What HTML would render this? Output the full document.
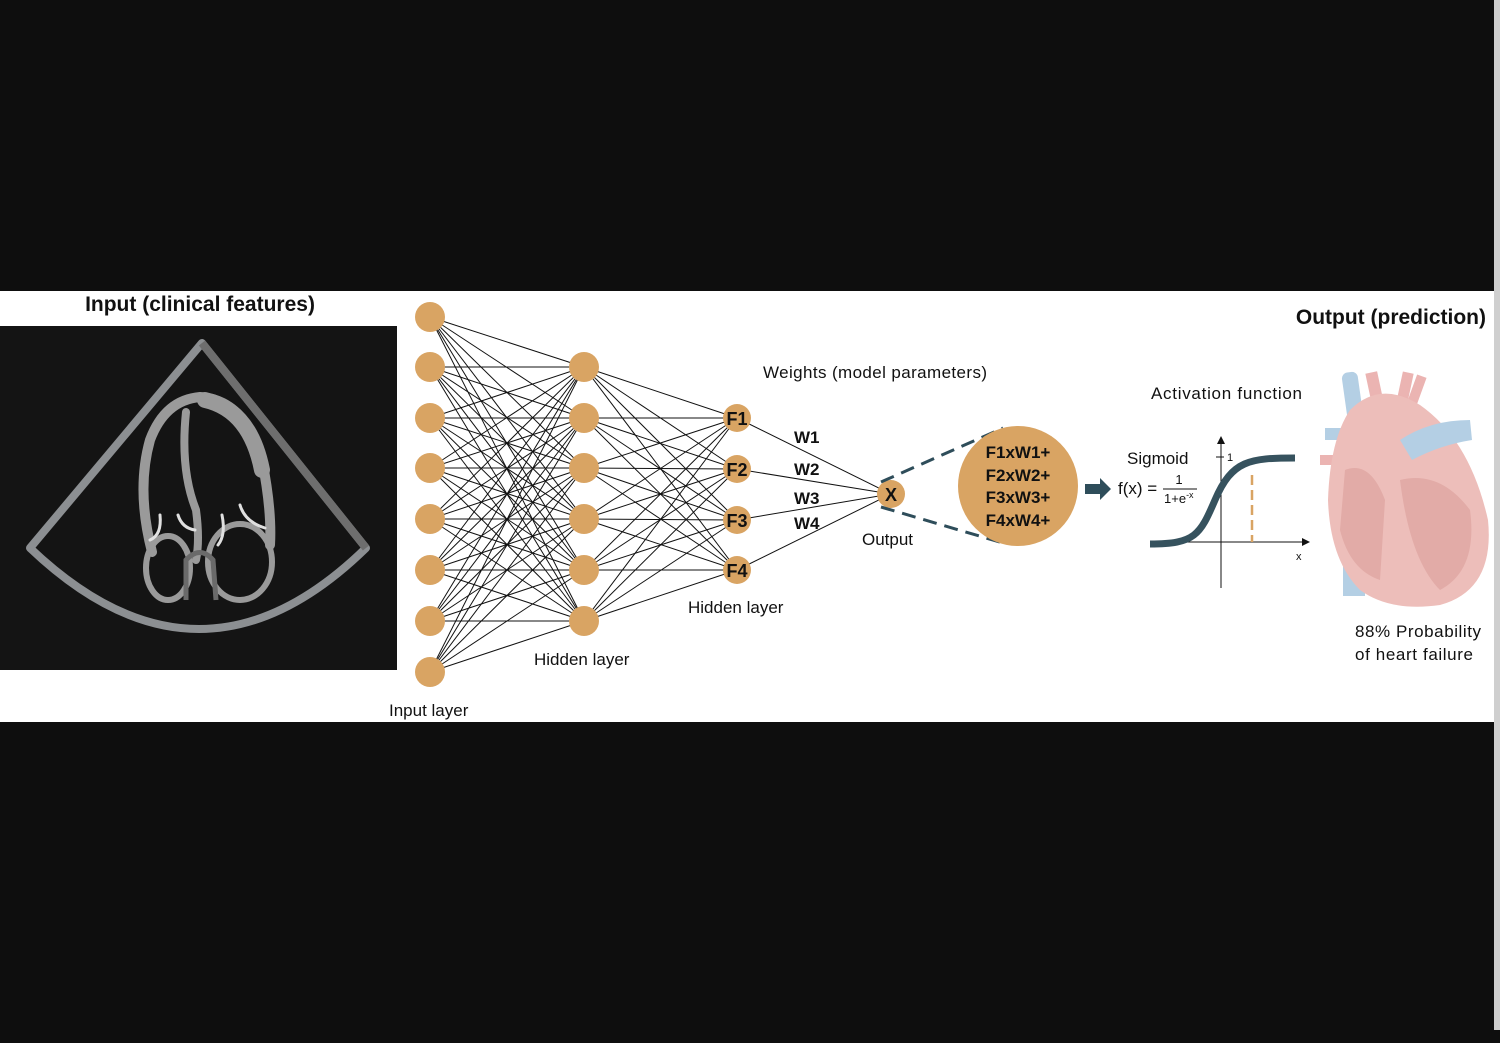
<!DOCTYPE html>
<html><head><meta charset="utf-8"><style>
html,body{margin:0;padding:0;background:#0e0e0e;}
#c{position:relative;width:1500px;height:1043px;overflow:hidden;background:#0e0e0e;font-family:"Liberation Sans",sans-serif;}
</style></head><body><div id="c">
<svg width="1500" height="1043" viewBox="0 0 1500 1043" xmlns="http://www.w3.org/2000/svg" style="position:absolute;left:0;top:0">
<rect x="1494" y="0" width="6" height="1030" fill="#cfcfcf"/>
<rect x="0" y="291" width="1494" height="431" fill="#ffffff"/>
<!-- echo image -->
<rect x="0" y="326" width="397" height="344" fill="#141414"/>
<path d="M202 343 L30 548 Q200 710 366 548 Z" fill="none" stroke="#8c8f92" stroke-width="8" stroke-linejoin="round"/>
<path d="M202 343 L366 548" stroke="#6e6e6e" stroke-width="8"/>
<g fill="none" stroke="#9a9a9a" stroke-linecap="round">
<path d="M152 552 Q136 490 150 440 Q165 400 200 397 Q245 400 262 460 Q272 510 270 545" stroke-width="10"/>
<path d="M205 400 Q250 410 262 470" stroke-width="16"/>
<path d="M186 412 Q180 470 196 510 Q200 540 196 560" stroke-width="8"/>
<ellipse cx="168" cy="568" rx="22" ry="32" stroke-width="6"/>
<ellipse cx="240" cy="562" rx="32" ry="38" stroke-width="6"/>
</g>
<path d="M186 600 L186 560 Q200 545 213 560 L216 600" fill="none" stroke="#6a6a6a" stroke-width="5"/>
<g fill="none" stroke="#e0e0e0" stroke-width="3" stroke-linecap="round">
<path d="M178 515 Q182 528 195 530"/><path d="M240 505 Q245 522 265 528"/><path d="M160 515 Q162 535 150 540"/><path d="M222 515 Q226 535 218 545"/>
</g>
<text x="200" y="311" font-size="21" font-weight="bold" text-anchor="middle" fill="#111">Input (clinical features)</text>
<g id="lines" stroke="#111" stroke-width="1"></g>
<g stroke="#111" stroke-width="1">
<line x1="737" y1="418" x2="891" y2="494"/><line x1="737" y1="469" x2="891" y2="494"/>
<line x1="737" y1="520" x2="891" y2="494"/><line x1="737" y1="570" x2="891" y2="494"/>
</g>
<g id="nodes" fill="#d9a463"></g>
<g font-size="18" font-weight="bold" fill="#111" text-anchor="middle">
<text x="737" y="425">F1</text><text x="737" y="476">F2</text><text x="737" y="527">F3</text><text x="737" y="577">F4</text>
</g>
<circle cx="891" cy="494" r="14" fill="#d9a463"/>
<text x="891" y="501" font-size="18" font-weight="bold" fill="#111" text-anchor="middle">X</text>
<g font-size="17" fill="#111" font-weight="bold">
<text x="794" y="443">W1</text><text x="794" y="475">W2</text><text x="794" y="504">W3</text><text x="794" y="529">W4</text>
</g>
<g font-size="17" fill="#111">
<text x="763" y="378" textLength="224">Weights (model parameters)</text>
<text x="862" y="545">Output</text>
<text x="688" y="613">Hidden layer</text>
<text x="534" y="665">Hidden layer</text>
<text x="389" y="716">Input layer</text>
<text x="1151" y="399" textLength="151">Activation function</text>
<text x="1127" y="464">Sigmoid</text>
<text x="1118" y="494">f(x) =</text>
<text x="1355" y="637" textLength="126">88% Probability</text>
<text x="1355" y="660" textLength="118">of heart failure</text>
</g>
<g stroke="#2e4d5a" stroke-width="3" stroke-dasharray="14,8" fill="none">
<line x1="881" y1="482" x2="1003" y2="428"/><line x1="881" y1="507" x2="1003" y2="543"/>
</g>
<circle cx="1018" cy="486" r="60" fill="#d9a463"/>
<g font-size="17" font-weight="bold" fill="#111" text-anchor="middle">
<text x="1018" y="458">F1xW1+</text><text x="1018" y="481">F2xW2+</text><text x="1018" y="503">F3xW3+</text><text x="1018" y="526">F4xW4+</text>
</g>
<path d="M1085 484 H1100 V478 L1111 489 L1100 500 V494 H1085 Z" fill="#2e4d5a"/>
<text x="1179" y="484" font-size="13" text-anchor="middle" fill="#111">1</text>
<line x1="1163" y1="489" x2="1197" y2="489" stroke="#111" stroke-width="1"/>
<text x="1164" y="503" font-size="13" fill="#111">1+e<tspan font-size="9" dy="-5">-x</tspan></text>
<line x1="1221" y1="442" x2="1221" y2="588" stroke="#111" stroke-width="1"/>
<path d="M1217 444 L1221 436 L1225 444 Z" fill="#111"/>
<line x1="1150" y1="542" x2="1304" y2="542" stroke="#111" stroke-width="1"/>
<path d="M1302 538 L1310 542 L1302 546 Z" fill="#111"/>
<line x1="1216" y1="457" x2="1224" y2="457" stroke="#111"/>
<text x="1227" y="461" font-size="11" fill="#111">1</text>
<text x="1296" y="560" font-size="11" fill="#111">x</text>
<line x1="1252" y1="475" x2="1252" y2="542" stroke="#d9a463" stroke-width="2.5" stroke-dasharray="10,5"/>
<path d="M1150 544 C1195 544 1200 535 1215 500 C1232 460 1250 458 1295 458" fill="none" stroke="#36525e" stroke-width="7"/>
<!-- heart -->
<g opacity="0.85">
<rect x="1345" y="372" width="16" height="60" rx="6" fill="#a8c7e0" transform="rotate(-8 1353 400)"/>
<rect x="1343" y="540" width="22" height="56" fill="#a8c7e0"/>
<rect x="1370" y="372" width="12" height="50" fill="#e8a7a5" transform="rotate(-12 1376 395)"/>
<rect x="1398" y="372" width="11" height="50" fill="#e8a7a5" transform="rotate(12 1403 395)"/>
<rect x="1410" y="375" width="10" height="45" fill="#e8a7a5" transform="rotate(20 1415 395)"/>
<rect x="1325" y="428" width="30" height="12" fill="#a8c7e0"/>
<rect x="1320" y="455" width="30" height="10" fill="#e8a7a5"/>
<path d="M1350 410 Q1380 380 1420 405 Q1470 440 1488 520 Q1495 590 1440 605 Q1390 612 1360 590 Q1330 560 1328 500 Q1330 440 1350 410 Z" fill="#ebb3ae"/>
<path d="M1400 440 Q1430 420 1470 420 L1472 440 Q1440 445 1412 460 Z" fill="#a8c7e0"/>
<path d="M1345 470 Q1370 460 1385 500 L1380 580 Q1350 570 1340 530 Z" fill="#dd9d98"/>
<path d="M1400 480 Q1440 470 1470 510 Q1478 570 1440 590 Q1410 560 1400 480 Z" fill="#dd9d98"/>
</g>
<text x="1486" y="324" font-size="21" font-weight="bold" text-anchor="end" fill="#111">Output (prediction)</text>
</svg>
<script>
var ns="http://www.w3.org/2000/svg";
var L=document.getElementById("lines"),N=document.getElementById("nodes");
var inp=[317,367,418,468,519,570,621,672],h1=[367,418,468,519,570,621],h2=[418,469,520,570];
function ln(a,b,c,d){var e=document.createElementNS(ns,"line");e.setAttribute("x1",a);e.setAttribute("y1",b);e.setAttribute("x2",c);e.setAttribute("y2",d);L.appendChild(e);}
function ci(x,y,r){var e=document.createElementNS(ns,"circle");e.setAttribute("cx",x);e.setAttribute("cy",y);e.setAttribute("r",r);N.appendChild(e);}
inp.forEach(function(a){h1.forEach(function(b){ln(430,a,584,b);});});
h1.forEach(function(a){h2.forEach(function(b){ln(584,a,737,b);});});
inp.forEach(function(a){ci(430,a,15);});
h1.forEach(function(a){ci(584,a,15);});
h2.forEach(function(a){ci(737,a,14);});
</script>
</div></body></html>
